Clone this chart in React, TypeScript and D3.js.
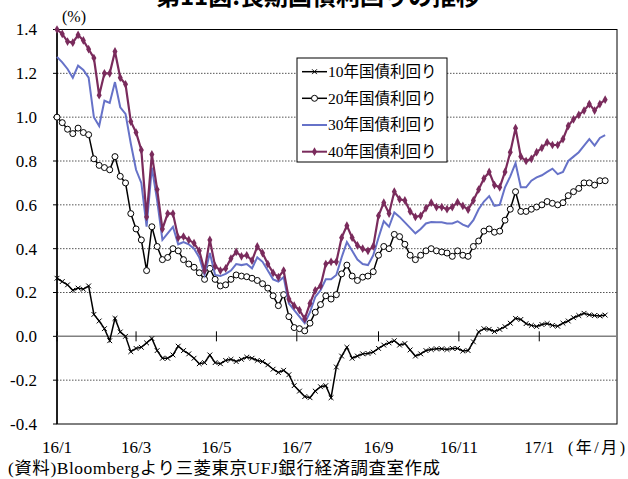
import React from "react";
import * as d3 from "d3";

// Observation dates (every 4 days)
const dates = [
  "2016-01-04","2016-01-08","2016-01-12","2016-01-16","2016-01-20","2016-01-24","2016-01-28",
  "2016-02-01","2016-02-05","2016-02-09","2016-02-13","2016-02-17","2016-02-21","2016-02-25","2016-02-29",
  "2016-03-04","2016-03-08","2016-03-12","2016-03-16","2016-03-20","2016-03-24","2016-03-28",
  "2016-04-01","2016-04-05","2016-04-09","2016-04-13","2016-04-17","2016-04-21","2016-04-25","2016-04-29",
  "2016-05-03","2016-05-07","2016-05-11","2016-05-15","2016-05-19","2016-05-23","2016-05-27","2016-05-31",
  "2016-06-04","2016-06-08","2016-06-12","2016-06-16","2016-06-20","2016-06-24","2016-06-28",
  "2016-07-02","2016-07-06","2016-07-10","2016-07-14","2016-07-18","2016-07-22","2016-07-26","2016-07-30",
  "2016-08-03","2016-08-07","2016-08-11","2016-08-15","2016-08-19","2016-08-23","2016-08-27","2016-08-31",
  "2016-09-04","2016-09-08","2016-09-12","2016-09-16","2016-09-20","2016-09-24","2016-09-28",
  "2016-10-02","2016-10-06","2016-10-10","2016-10-14","2016-10-18","2016-10-22","2016-10-26","2016-10-30",
  "2016-11-03","2016-11-07","2016-11-11","2016-11-15","2016-11-19","2016-11-23","2016-11-27",
  "2016-12-01","2016-12-05","2016-12-09","2016-12-13","2016-12-17","2016-12-21","2016-12-25","2016-12-29",
  "2017-01-02","2017-01-06","2017-01-10","2017-01-14","2017-01-18","2017-01-22","2017-01-26","2017-01-30",
  "2017-02-03","2017-02-07","2017-02-11","2017-02-15","2017-02-19","2017-02-23",
];

// 10-year JGB yield (%)
const jgb10 = [
  0.265,0.25,0.235,0.21,0.22,0.215,0.23,
  0.10,0.07,0.035,-0.02,0.082,0.02,0.0,-0.07,
  -0.055,-0.05,-0.03,-0.01,-0.065,-0.10,-0.10,
  -0.085,-0.045,-0.065,-0.08,-0.10,-0.125,-0.12,-0.085,
  -0.12,-0.125,-0.11,-0.105,-0.115,-0.105,-0.095,-0.10,
  -0.11,-0.115,-0.13,-0.15,-0.165,-0.155,-0.175,
  -0.225,-0.25,-0.275,-0.28,-0.25,-0.23,-0.225,-0.28,
  -0.14,-0.09,-0.05,-0.10,-0.09,-0.08,-0.078,-0.072,
  -0.055,-0.04,-0.03,-0.02,-0.04,-0.033,-0.062,
  -0.09,-0.08,-0.065,-0.06,-0.057,-0.057,-0.06,-0.055,
  -0.055,-0.067,-0.065,-0.025,0.02,0.035,0.032,
  0.022,0.032,0.044,0.06,0.082,0.077,0.058,0.05,
  0.045,0.054,0.058,0.05,0.046,0.06,0.07,0.085,
  0.095,0.105,0.098,0.095,0.093,0.097,
];

// 20-year JGB yield (%)
const jgb20 = [
  1.0,0.975,0.945,0.925,0.95,0.93,0.92,
  0.81,0.78,0.77,0.76,0.82,0.73,0.70,0.56,
  0.49,0.44,0.30,0.50,0.41,0.35,0.36,
  0.40,0.39,0.35,0.33,0.315,0.29,0.26,0.31,
  0.26,0.23,0.235,0.26,0.28,0.275,0.272,0.265,
  0.255,0.24,0.22,0.185,0.14,0.19,0.09,
  0.04,0.035,0.025,0.06,0.11,0.145,0.185,0.17,
  0.19,0.285,0.325,0.275,0.255,0.27,0.275,0.295,
  0.37,0.41,0.40,0.465,0.455,0.42,0.37,
  0.35,0.37,0.39,0.40,0.39,0.385,0.38,0.365,
  0.39,0.37,0.365,0.41,0.435,0.48,0.49,
  0.475,0.48,0.53,0.58,0.66,0.57,0.57,0.58,
  0.59,0.60,0.615,0.607,0.60,0.61,0.642,0.66,
  0.675,0.70,0.70,0.69,0.71,0.71,
];

// 30-year JGB yield (%)
const jgb30 = [
  1.275,1.25,1.22,1.18,1.235,1.215,1.18,
  1.0,0.96,1.075,1.065,1.16,1.045,1.015,0.88,
  0.76,0.70,0.50,0.77,0.62,0.44,0.47,
  0.50,0.42,0.43,0.42,0.40,0.36,0.28,0.38,
  0.28,0.275,0.285,0.30,0.33,0.325,0.33,0.31,
  0.36,0.34,0.30,0.26,0.25,0.27,0.15,
  0.12,0.09,0.06,0.11,0.18,0.21,0.26,0.26,
  0.28,0.36,0.43,0.39,0.35,0.33,0.325,0.37,
  0.45,0.525,0.50,0.565,0.545,0.52,0.495,
  0.47,0.49,0.515,0.522,0.52,0.52,0.515,0.515,
  0.525,0.51,0.50,0.53,0.58,0.615,0.64,
  0.595,0.60,0.68,0.73,0.79,0.68,0.68,0.71,
  0.725,0.735,0.75,0.765,0.74,0.75,0.80,0.82,
  0.84,0.87,0.90,0.87,0.905,0.918,
];

// 40-year JGB yield (%)
const jgb40 = [
  1.40,1.38,1.345,1.34,1.375,1.35,1.31,
  1.27,1.10,1.20,1.20,1.30,1.18,1.15,0.98,
  0.93,0.85,0.545,0.83,0.67,0.49,0.56,
  0.56,0.45,0.455,0.44,0.425,0.39,0.30,0.44,
  0.32,0.30,0.31,0.355,0.385,0.365,0.37,0.345,
  0.41,0.38,0.33,0.29,0.27,0.30,0.17,
  0.14,0.12,0.08,0.15,0.21,0.23,0.33,0.34,
  0.34,0.45,0.505,0.45,0.415,0.40,0.39,0.41,
  0.55,0.61,0.56,0.66,0.625,0.62,0.57,
  0.545,0.55,0.585,0.61,0.59,0.59,0.58,0.59,
  0.612,0.595,0.578,0.62,0.67,0.72,0.75,
  0.69,0.68,0.75,0.84,0.95,0.82,0.80,0.81,
  0.84,0.86,0.885,0.873,0.873,0.90,0.96,0.99,
  1.01,1.03,1.06,1.03,1.06,1.08,
];

const seriesNames = ["10年国債利回り", "20年国債利回り", "30年国債利回り", "40年国債利回り"];
const yTicks = [1.4, 1.2, 1.0, 0.8, 0.6, 0.4, 0.2, 0.0, -0.2, -0.4];
const xTickDates = ["2016-01-04", "2016-03-04", "2016-05-04", "2016-07-04", "2016-09-04", "2016-11-04", "2017-01-04"];
const xTickLabels = ["16/1", "16/3", "16/5", "16/7", "16/9", "16/11", "17/1"];

const SERIF = "'Liberation Serif', 'Times New Roman', 'Noto Sans CJK JP', serif";
const MAROON = "#7a2b5c";
const BLUE = "#6672c8";

const parse = d3.timeParse("%Y-%m-%d");

export default function App() {
  const left = 57, right = 617, top = 29.5, bottom = 424;
  const x = d3.scaleTime()
    .domain([parse("2016-01-04")!, parse("2017-03-04")!])
    .range([left, right]);
  const y = d3.scaleLinear().domain([-0.4, 1.4]).range([bottom, top]);

  const ds = dates.map((d) => parse(d)!);
  const mk = (vals: number[]) => vals.map((v, i) => ({ d: ds[i], v }));
  const line = d3.line<{ d: Date; v: number }>().x((p) => x(p.d)).y((p) => y(p.v));

  const s10 = mk(jgb10), s20 = mk(jgb20), s30 = mk(jgb30), s40 = mk(jgb40);
  const diamond = d3.symbol().type(d3.symbolDiamond).size(22)()!;
  const cross = "M-2.4,-2.4L2.4,2.4M-2.4,2.4L2.4,-2.4";

  const y0 = y(0);
  const legendRows = [71.7, 98.3, 125, 151.7];

  return (
    <svg width={628} height={479} style={{ position: "absolute", left: 0, top: 0, background: "#fff" }}>
      <rect x={0} y={0} width={628} height={479} fill="#fff" />
      {/* Title, running off the top edge */}
      <text x={318} y={5} textAnchor="middle" fontSize={24} fontWeight="bold"
        fontFamily="'Noto Sans CJK JP', sans-serif" fill="#000">第11図:長期国債利回りの推移</text>

      {/* gridlines */}
      {yTicks.filter((t) => t !== 0 && t !== 1.4 && t !== -0.4).map((t) => (
        <line key={t} x1={left} x2={right} y1={y(t)} y2={y(t)} stroke="#555" strokeWidth={1} strokeDasharray="1.5,1.5" />
      ))}
      {/* plot frame */}
      <rect x={left} y={top} width={right - left} height={bottom - top} fill="none" stroke="#000" strokeWidth={1} />
      <line x1={left} x2={left} y1={top} y2={bottom} stroke="#000" strokeWidth={1.5} />
      {/* zero axis with month ticks */}
      <line x1={left} x2={right} y1={y0} y2={y0} stroke="#808080" strokeWidth={1.5} />
      {xTickDates.map((d) => (
        <line key={d} x1={x(parse(d)!)} x2={x(parse(d)!)} y1={y0 - 5} y2={y0 + 5} stroke="#000" strokeWidth={1} />
      ))}
      {/* y-axis ticks and labels */}
      {yTicks.map((t) => (
        <g key={t}>
          <line x1={left - 4} x2={left} y1={y(t)} y2={y(t)} stroke="#000" />
          <text x={37} y={y(t)} dy="0.35em" textAnchor="end" fontSize={17} fontFamily={SERIF} fill="#000">
            {t.toFixed(1)}
          </text>
        </g>
      ))}
      <text x={62} y={22} fontSize={16} fontFamily={SERIF} fill="#000">(%)</text>

      {/* x-axis labels */}
      {xTickDates.map((d, i) => (
        <text key={d} x={x(parse(d)!)} y={453} textAnchor="middle" fontSize={17} fontFamily={SERIF} fill="#000">
          {xTickLabels[i]}
        </text>
      ))}
      <text x={568} y={453} fontSize={16} fontFamily={SERIF} fill="#000" textLength={57} lengthAdjust="spacing">(年/月)</text>

      {/* 10-year */}
      <path d={line(s10)!} fill="none" stroke="#000" strokeWidth={1.5} />
      {s10.map((p, i) => (
        <path key={i} d={cross} transform={`translate(${x(p.d)},${y(p.v)})`} stroke="#000" strokeWidth={1} fill="none" />
      ))}
      {/* 20-year */}
      <path d={line(s20)!} fill="none" stroke="#000" strokeWidth={1.5} />
      {s20.map((p, i) => (
        <circle key={i} cx={x(p.d)} cy={y(p.v)} r={3} fill="#fff" stroke="#000" strokeWidth={1} />
      ))}
      {/* 30-year */}
      <path d={line(s30)!} fill="none" stroke={BLUE} strokeWidth={2} />
      {/* 40-year */}
      <path d={line(s40)!} fill="none" stroke={MAROON} strokeWidth={2.2} />
      {s40.map((p, i) => (
        <path key={i} d={diamond} transform={`translate(${x(p.d)},${y(p.v)})`} fill={MAROON} />
      ))}

      {/* legend */}
      <rect x={297} y={58} width={150} height={104} fill="#fff" stroke="#000" strokeWidth={1} />
      {seriesNames.map((name, i) => {
        const ly = legendRows[i];
        const color = i === 2 ? BLUE : i === 3 ? MAROON : "#000";
        return (
          <g key={name}>
            <line x1={302} x2={327} y1={ly} y2={ly} stroke={color} strokeWidth={i >= 2 ? 2 : 1.5} />
            {i === 0 && <path d={cross} transform={`translate(314.5,${ly})`} stroke="#000" strokeWidth={1} fill="none" />}
            {i === 1 && <circle cx={314.5} cy={ly} r={3} fill="#fff" stroke="#000" />}
            {i === 3 && <path d={diamond} transform={`translate(314.5,${ly})`} fill={MAROON} />}
            <text x={328} y={ly} dy="0.35em" fontSize={15.5} fontFamily={SERIF} fill="#000">{name}</text>
          </g>
        );
      })}

      {/* source note */}
      <text x={8} y={474} fontSize={17.5} fontFamily={SERIF} fill="#000" textLength={432} lengthAdjust="spacing">
        (資料)Bloombergより三菱東京UFJ銀行経済調査室作成
      </text>
    </svg>
  );
}
